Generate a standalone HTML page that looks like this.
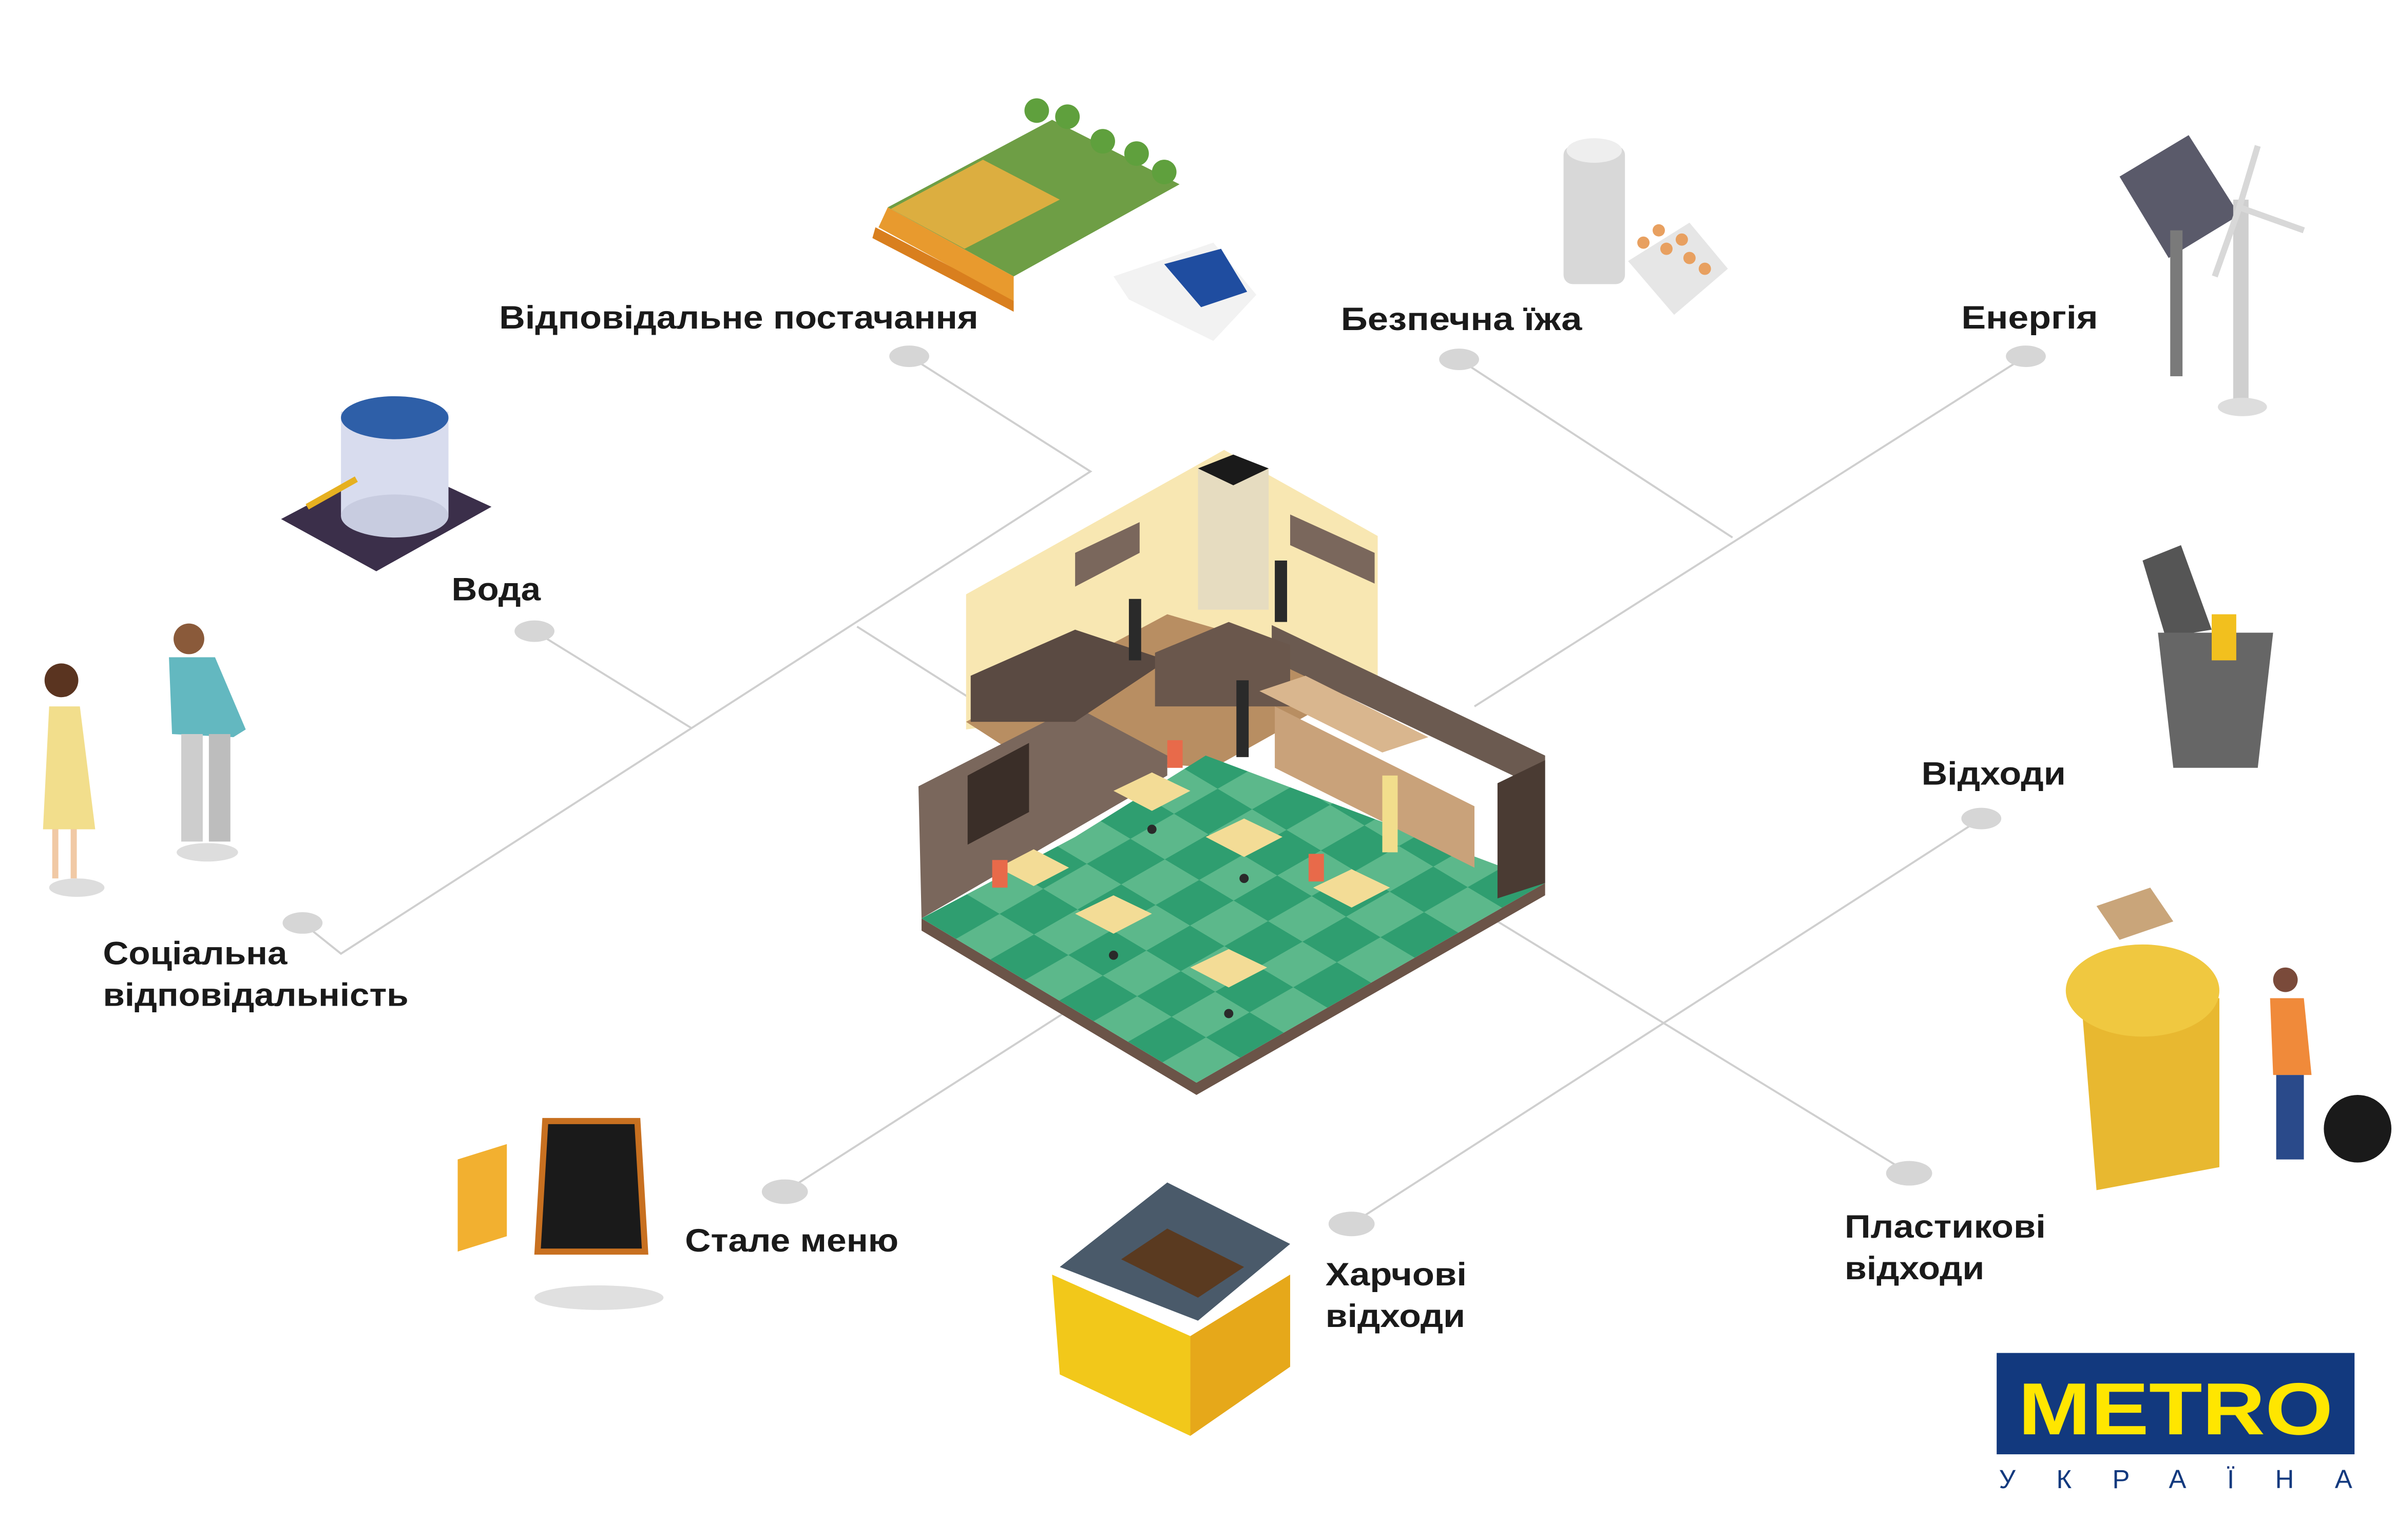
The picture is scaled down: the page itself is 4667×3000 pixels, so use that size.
<!DOCTYPE html>
<html><head><meta charset="utf-8"><style>
html,body{margin:0;padding:0;background:#fff}
svg{display:block}
text{font-family:"Liberation Sans","DejaVu Sans",sans-serif;font-weight:bold;fill:#1a1a1a}
</style></head><body>
<svg width="4667" height="3000" viewBox="0 0 1560 1002.8" preserveAspectRatio="none" xmlns="http://www.w3.org/2000/svg">
<defs>
<pattern id="chk" width="2" height="2" patternUnits="userSpaceOnUse" patternTransform="matrix(22.4,13.4,28.4,-16.3,600,598)">
<rect width="2" height="2" fill="#5cb88b"/>
<rect width="1" height="1" fill="#2f9e70"/><rect x="1" y="1" width="1" height="1" fill="#2f9e70"/>
</pattern>
</defs>
<rect width="1560" height="1003" fill="#fff"/>
<!-- connectors -->
<g stroke="#cfcfcf" stroke-width="1.3" fill="none">
<polyline points="592,232 710,307 222,621 197,601"/>
<polyline points="348,411 450,474"/>
<polyline points="558,408 640,460"/>
<polyline points="950,234 1128,350"/>
<polyline points="1319,232 960,460"/>
<polyline points="1290,533 880,797"/>
<polyline points="1243,764 975,600"/>
<polyline points="511,776 700,655"/>
</g>
<!-- dots -->
<g fill="#d6d6d6">
<ellipse cx="592" cy="232" rx="13" ry="7"/>
<ellipse cx="950" cy="234" rx="13" ry="7"/>
<ellipse cx="1319" cy="232" rx="13" ry="7"/>
<ellipse cx="348" cy="411" rx="13" ry="7"/>
<ellipse cx="197" cy="601" rx="13" ry="7"/>
<ellipse cx="1290" cy="533" rx="13" ry="7"/>
<ellipse cx="511" cy="776" rx="15" ry="8"/>
<ellipse cx="880" cy="797" rx="15" ry="8"/>
<ellipse cx="1243" cy="764" rx="15" ry="8"/>
</g>
<!-- labels -->
<g font-size="21">
<text x="325" y="214" textLength="312" lengthAdjust="spacingAndGlyphs">Відповідальне постачання</text>
<text x="873" y="215" textLength="157" lengthAdjust="spacingAndGlyphs">Безпечна їжа</text>
<text x="1277" y="214" textLength="89" lengthAdjust="spacingAndGlyphs">Енергія</text>
<text x="294" y="391" textLength="58" lengthAdjust="spacingAndGlyphs">Вода</text>
<text x="67" y="628" textLength="120" lengthAdjust="spacingAndGlyphs">Соціальна</text>
<text x="67" y="655" textLength="199" lengthAdjust="spacingAndGlyphs">відповідальність</text>
<text x="1251" y="511" textLength="94" lengthAdjust="spacingAndGlyphs">Відходи</text>
<text x="446" y="815" textLength="139" lengthAdjust="spacingAndGlyphs">Стале меню</text>
<text x="863" y="837" textLength="92" lengthAdjust="spacingAndGlyphs">Харчові</text>
<text x="863" y="864" textLength="91" lengthAdjust="spacingAndGlyphs">відходи</text>
<text x="1201" y="806" textLength="131" lengthAdjust="spacingAndGlyphs">Пластикові</text>
<text x="1201" y="833" textLength="91" lengthAdjust="spacingAndGlyphs">відходи</text>
</g>
<!-- restaurant -->
<polygon points="629,387 797,293 897,349 897,440 629,475" fill="#f8e7b2"/>
<polygon points="629,470 760,400 897,440 790,500 660,490" fill="#b88e62"/>
<polygon points="600,598 779,705 1006,575 1006,583 779,713 600,606" fill="#6b5448"/>
<polygon points="600,598 700,545 785,492 1006,575 779,705" fill="url(#chk)"/>
<polygon points="598,512 700,460 760,492 760,505 600,598" fill="#7a675c"/>
<rect x="630" y="495" width="40" height="45" fill="#3a2e28" transform="skewY(-28) translate(0,345)"/>
<polygon points="828,407 1006,492 1006,575 985,565 985,505 828,430" fill="#6b5a50"/>
<polygon points="975,510 1006,495 1006,575 975,585" fill="#4a3b33"/>
<rect x="780" y="305" width="46" height="92" fill="#e6dcc0"/>
<polygon points="780,305 803,296 826,305 803,316" fill="#1a1a1a"/>
<polygon points="700,360 742,340 742,360 700,382" fill="#7a675c"/>
<polygon points="840,335 895,360 895,380 840,355" fill="#7a675c"/>
<polygon points="632,440 700,410 760,430 700,470 632,470" fill="#5a4a42"/>
<polygon points="752,425 800,405 840,420 840,460 752,460" fill="#6a574c"/>
<polygon points="830,460 960,525 960,565 830,500" fill="#c9a27a"/>
<polygon points="820,450 900,490 930,480 850,440" fill="#d9b68e"/>
<g fill="#f3dc96">
<polygon points="725,515 750,503 775,515 750,528"/>
<polygon points="785,545 810,533 835,545 810,558"/>
<polygon points="650,565 673,553 696,565 673,577"/>
<polygon points="700,595 725,583 750,595 725,608"/>
<polygon points="855,578 880,566 905,578 880,591"/>
<polygon points="775,630 800,618 825,630 800,643"/>
</g>
<g fill="#2a2a2a"><circle cx="750" cy="540" r="3"/><circle cx="810" cy="572" r="3"/><circle cx="725" cy="622" r="3"/><circle cx="800" cy="660" r="3"/></g>
<g fill="#e86a4a"><rect x="760" y="482" width="10" height="18"/><rect x="852" y="556" width="10" height="18"/><rect x="646" y="560" width="10" height="18"/></g>
<g fill="#2a2a2a"><rect x="805" y="443" width="8" height="50"/><rect x="735" y="390" width="8" height="40"/><rect x="830" y="365" width="8" height="40"/></g>
<rect x="900" y="505" width="10" height="50" fill="#f2de8c"/>
<!-- supply farm -->
<polygon points="578,135 685,78 768,120 660,180" fill="#6e9e45"/>
<polygon points="570,148 660,195 660,203 568,155" fill="#d97f1e"/>
<polygon points="578,135 660,180 660,196 572,148" fill="#e89a2e"/>
<polygon points="580,136 640,104 690,130 628,162" fill="#f0b040" opacity=".85"/>
<g fill="#5fa03d"><circle cx="675" cy="72" r="8"/><circle cx="695" cy="76" r="8"/><circle cx="718" cy="92" r="8"/><circle cx="740" cy="100" r="8"/><circle cx="758" cy="112" r="8"/></g>
<polygon points="725,180 790,158 818,192 790,222 735,195" fill="#f2f2f2"/>
<polygon points="758,172 795,162 812,190 782,200" fill="#1f4da0"/>
<!-- safe food -->
<rect x="1018" y="95" width="40" height="90" rx="6" fill="#d8d8d8"/>
<ellipse cx="1038" cy="98" rx="18" ry="8" fill="#eee"/>
<polygon points="1060,170 1100,145 1125,175 1090,205" fill="#e6e6e6"/>
<g fill="#e8a060"><circle cx="1070" cy="158" r="4"/><circle cx="1085" cy="162" r="4"/><circle cx="1100" cy="168" r="4"/><circle cx="1080" cy="150" r="4"/><circle cx="1095" cy="156" r="4"/><circle cx="1110" cy="175" r="4"/></g>
<!-- energy -->
<polygon points="1380,115 1425,88 1458,140 1412,168" fill="#5a5a6a"/>
<rect x="1413" y="150" width="8" height="95" fill="#7a7a7a"/>
<rect x="1454" y="130" width="10" height="130" fill="#cfcfcf"/>
<path d="M1458,135 L1500,150 M1458,135 L1442,180 M1458,135 L1470,95" stroke="#d8d8d8" stroke-width="4"/>
<ellipse cx="1460" cy="265" rx="16" ry="6" fill="#ddd"/>
<!-- water -->
<polygon points="183,338 255,300 320,330 245,372" fill="#3b2f4a"/>
<rect x="222" y="268" width="70" height="68" fill="#d8dcee"/>
<ellipse cx="257" cy="336" rx="35" ry="14" fill="#c8cce0"/>
<ellipse cx="257" cy="272" rx="35" ry="14" fill="#2e5fa8"/>
<path d="M200,330 L232,312" stroke="#e6b020" stroke-width="4"/>
<!-- people -->
<ellipse cx="50" cy="578" rx="18" ry="6" fill="#ddd"/><ellipse cx="135" cy="555" rx="20" ry="6" fill="#ddd"/>
<circle cx="40" cy="443" r="11" fill="#5a3420"/>
<polygon points="32,460 52,460 62,540 28,540" fill="#f2de8c"/>
<rect x="34" y="540" width="4" height="32" fill="#f1c9a5"/><rect x="46" y="540" width="4" height="32" fill="#f1c9a5"/>
<circle cx="123" cy="416" r="10" fill="#8a5a3a"/>
<polygon points="110,428 140,428 160,475 152,480 112,478" fill="#63b8c0"/>
<rect x="118" y="478" width="14" height="70" fill="#cdcdcd"/><rect x="136" y="478" width="14" height="70" fill="#bdbdbd"/>
<!-- waste bin -->
<polygon points="1395,365 1420,355 1440,410 1410,415" fill="#555"/>
<polygon points="1405,412 1480,412 1470,500 1415,500" fill="#666"/>
<rect x="1440" y="400" width="16" height="30" fill="#f2c01e"/>
<!-- plastic waste -->
<polygon points="1355,650 1445,650 1445,760 1365,775" fill="#e8b830"/>
<ellipse cx="1395" cy="645" rx="50" ry="30" fill="#f0c840"/>
<polygon points="1365,590 1400,578 1415,600 1380,612" fill="#c9a57a"/>
<circle cx="1488" cy="638" r="8" fill="#7a4a3a"/>
<polygon points="1478,650 1500,650 1505,700 1480,700" fill="#f08a3a"/>
<rect x="1482" y="700" width="18" height="55" fill="#2a4a8a"/>
<ellipse cx="1535" cy="735" rx="22" ry="22" fill="#1a1a1a"/>
<!-- menu -->
<polygon points="298,755 330,745 330,805 298,815" fill="#f2b030"/>
<polygon points="355,730 415,730 420,815 350,815" fill="#1a1a1a" stroke="#c87020" stroke-width="4"/>
<ellipse cx="390" cy="845" rx="42" ry="8" fill="#e0e0e0"/>
<!-- food waste -->
<polygon points="690,825 760,770 840,810 780,860" fill="#4a5a6a"/>
<polygon points="685,830 775,870 775,935 690,895" fill="#f2c81a"/>
<polygon points="775,870 840,830 840,890 775,935" fill="#e6a81a"/>
<polygon points="730,820 760,800 810,825 780,845" fill="#5a3a20"/>
<!-- METRO logo -->
<rect x="1300" y="881" width="233" height="66" fill="#12397e"/>
<text x="1416.5" y="934" text-anchor="middle" font-size="48" style="fill:#ffe600;font-weight:900" textLength="205" lengthAdjust="spacingAndGlyphs">METRO</text>
<text x="1416.5" y="969" text-anchor="middle" font-size="17" style="fill:#12397e;font-weight:normal" textLength="230" lengthAdjust="spacing">УКРАЇНА</text>
</svg>
</body></html>
